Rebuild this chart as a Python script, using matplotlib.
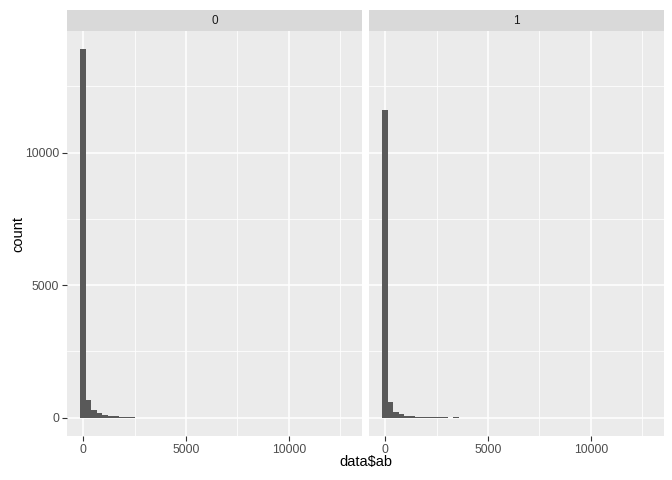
import matplotlib.pyplot as plt
import numpy as np

# histogram data (bin width ~265, bins centred on 0)
bin_width = 265
counts_0 = [13900, 650, 270, 190, 115, 75, 45, 30, 25, 15]
counts_1 = [11600, 570, 228, 150, 76, 45, 35, 25, 20, 15, 10, 8, 0, 8]
panels = ["0", "1"]
x_max = 12900  # largest value of data$ab (outliers not visible at this scale)

plt.rcParams['font.family'] = ['Liberation Sans', 'DejaVu Sans']

W, H = 672, 480
fig = plt.figure(figsize=(W / 100, H / 100), dpi=100)

# ggplot default expansion (5%)
lo_x = -bin_width / 2
hi_x = x_max
xr = hi_x - lo_x
xlim = (lo_x - 0.05 * xr, hi_x + 0.05 * xr)
ymax = max(max(counts_0), max(counts_1))
ylim = (-0.05 * ymax, ymax * 1.05)

panel_px = [(67, 362), (369, 664)]
top, bottom = 31, 436
strip_h = 21

for i, (lab, cnt) in enumerate(zip(panels, [counts_0, counts_1])):
    x0, x1 = panel_px[i]
    ax = fig.add_axes([x0 / W, (H - bottom) / H, (x1 - x0) / W, (bottom - top) / H])
    ax.set_facecolor('#EBEBEB')
    for s in ax.spines.values():
        s.set_visible(False)
    ax.set_xlim(*xlim)
    ax.set_ylim(*ylim)
    ax.set_xticks([0, 5000, 10000])
    ax.set_xticks([2500, 7500, 12500], minor=True)
    ax.set_yticks([0, 5000, 10000])
    ax.set_yticks([2500, 7500, 12500], minor=True)
    ax.grid(True, which='major', color='white', linewidth=1.1)
    ax.grid(True, which='minor', color='white', linewidth=0.55)
    ax.set_axisbelow(True)
    centers = np.arange(len(cnt)) * bin_width
    ax.bar(centers, cnt, width=bin_width, color='#595959', linewidth=0)
    ax.tick_params(which='major', length=3.7, width=0.8, color='#333333',
                   labelsize=8.8, labelcolor='#4D4D4D', pad=2)
    ax.tick_params(which='minor', length=0)
    if i > 0:
        ax.tick_params(axis='y', which='both', left=False, labelleft=False)

    # facet strip
    sx = fig.add_axes([x0 / W, (H - top) / H, (x1 - x0) / W, strip_h / H])
    sx.set_facecolor('#D9D9D9')
    sx.set_xticks([])
    sx.set_yticks([])
    for s in sx.spines.values():
        s.set_visible(False)
    sx.text(0.5, 0.5, lab, ha='center', va='center', fontsize=8.5, color='#1A1A1A',
            transform=sx.transAxes)

fig.text((67 + 664) / 2 / W, 1 - 462 / H, r"data\$ab", ha='center', va='center', fontsize=10.5)
fig.text(18 / W, 1 - (top + bottom) / 2 / H, "count", ha='center', va='center',
         rotation=90, fontsize=10.5)

fig.savefig('out.png', dpi=100)
plt.close(fig)
